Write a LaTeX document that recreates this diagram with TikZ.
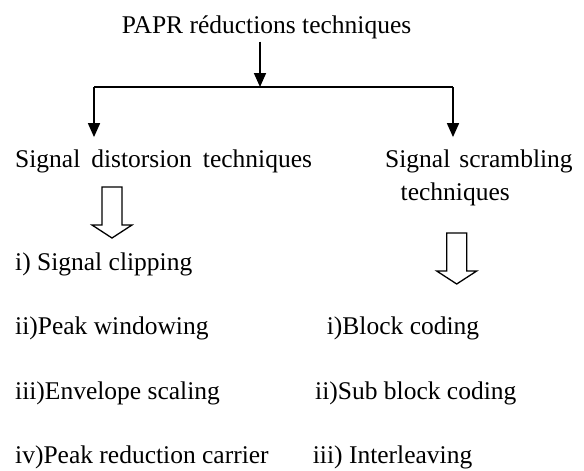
\documentclass[tikz,border=0pt]{standalone}
\usepackage{fontspec}
\setmainfont{Liberation Serif}
\usetikzlibrary{arrows.meta}

\tikzset{
	item/.style={anchor=base west, inner sep=0pt, font=\fontsize{25.5}{33}\selectfont},
	link/.style={line width=1.7pt},
	tip/.style={link, -{Triangle[width=12pt,length=14pt]}},
	hollow/.style={line width=1.3pt, fill=white, line join=miter},
	hollowdown/.pic={
			\draw [hollow] (-10,0) -- (-10,38) -- (-20,38) -- (0,51) -- (20,38) -- (10,38) -- (10,0) -- cycle;
		},
}

\begin{document}
\begin{tikzpicture}[x=1pt,y=-1pt]
	\useasboundingbox (0,0) rectangle (584,471);

	\node [item, anchor=base] (papr) at (266.5,34) {PAPR réductions techniques};
	\node [item] (dist) at (15,167) {Signal\hspace{11pt}distorsion\hspace{11pt}techniques};
	\node [item] (scram) at (385,167) {Signal\hspace{9pt}scrambling};
	\node [item] (scramb) at (400.5,200) {techniques};

	% Split into the two families
	\coordinate (split) at (260,87);
	\coordinate (jl) at (94,87);
	\coordinate (jr) at (453,87);
	\draw [tip] ([yshift=-2pt]papr.south -| split) -- (split);
	\draw [link] (jl) -- (jr);
	\draw [tip] (jl) -- ([yshift=12pt]dist.north -| jl);
	\draw [tip] (jr) -- ([yshift=12pt]scram.north -| jr);

	\pic at (112,187) {hollowdown};
	\pic at (456.7,233) {hollowdown};

	% Distorsion techniques
	\foreach \t [count=\i] in {i) Signal clipping, ii)Peak windowing, iii)Envelope scaling, iv)Peak reduction carrier}{
			\node [item] (sd-\i) at (15,{270+64.6*(\i-1)}) {\t};
		}

	% Scrambling techniques
	\foreach \t/\x [count=\i from 2] in {i)Block coding/326.7, ii)Sub block coding/315, iii) Interleaving/312.7}{
			\node [item] (ss-\i) at (\x,{270+64.6*(\i-1)}) {\t};
		}
\end{tikzpicture}
\end{document}
